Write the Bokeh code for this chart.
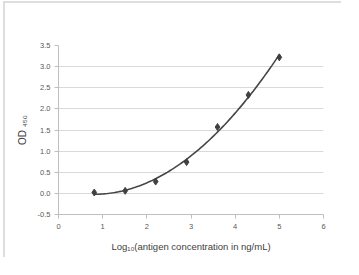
import numpy as np
from bokeh.plotting import figure
from bokeh.models import Range1d, FixedTicker, CustomJSTickFormatter
from bokeh.embed import file_html
from bokeh.resources import INLINE

# data
log_conc = [0.81, 1.51, 2.20, 2.90, 3.60, 4.30, 5.00]
od450 = [0.02, 0.06, 0.28, 0.74, 1.57, 2.33, 3.22]
x_ticks = [0, 1, 2, 3, 4, 5, 6]
y_ticks = [-0.5, 0.0, 0.5, 1.0, 1.5, 2.0, 2.5, 3.0, 3.5]

# polynomial trendline fitted from the data
coef = np.polyfit(log_conc, od450, 2)
xs = np.linspace(min(log_conc), max(log_conc), 100)
ys = np.polyval(coef, xs)

p = figure(width=338, height=256, output_backend="svg", toolbar_location=None,
           x_range=Range1d(0, 6), y_range=Range1d(-0.5, 3.5),
           min_border_left=53, min_border_right=20, min_border_top=42, min_border_bottom=45)
p.outline_line_color = None
p.background_fill_color = "white"
p.border_fill_color = "white"
p.styles = {"margin-left": "3px", "margin-top": "1px",
            "border-left": "2px solid #dedede", "border-top": "2px solid #dedede"}

p.xaxis.ticker = FixedTicker(ticks=x_ticks)
p.yaxis.ticker = FixedTicker(ticks=y_ticks)
p.yaxis.formatter = CustomJSTickFormatter(code="return tick.toFixed(1);")

p.xgrid.grid_line_color = None
p.ygrid.grid_line_color = "#d9d9d9"
p.ygrid.grid_line_width = 1

for ax in (p.xaxis[0], p.yaxis[0]):
    ax.axis_line_color = "#bfbfbf"
    ax.major_tick_line_color = "#bfbfbf"
    ax.minor_tick_line_color = None
    ax.major_tick_out = 4
    ax.major_tick_in = 0
    ax.major_label_text_font = "Liberation Sans"
    ax.major_label_text_font_size = "7.5px"
    ax.major_label_text_color = "#595959"
    ax.axis_label_text_font = "Liberation Sans"
    ax.axis_label_text_font_size = "9.5px"
    ax.axis_label_text_font_style = "normal"
    ax.axis_label_text_color = "#404040"

p.xaxis.axis_label = "Log₁₀(antigen concentration in ng/mL)"
p.yaxis.axis_label = "OD ₄₅₀"
p.yaxis.axis_label_text_font_size = "10px"
p.xaxis.axis_label_standoff = 9
p.yaxis.axis_label_standoff = 7
p.xaxis.major_label_standoff = 5
p.yaxis.major_label_standoff = 4

p.line(xs, ys, line_color="#454545", line_width=1.6)
p.scatter(log_conc, od450, marker="diamond", size=7, color="#404040")

open("out.html", "w").write(file_html(p, INLINE))
